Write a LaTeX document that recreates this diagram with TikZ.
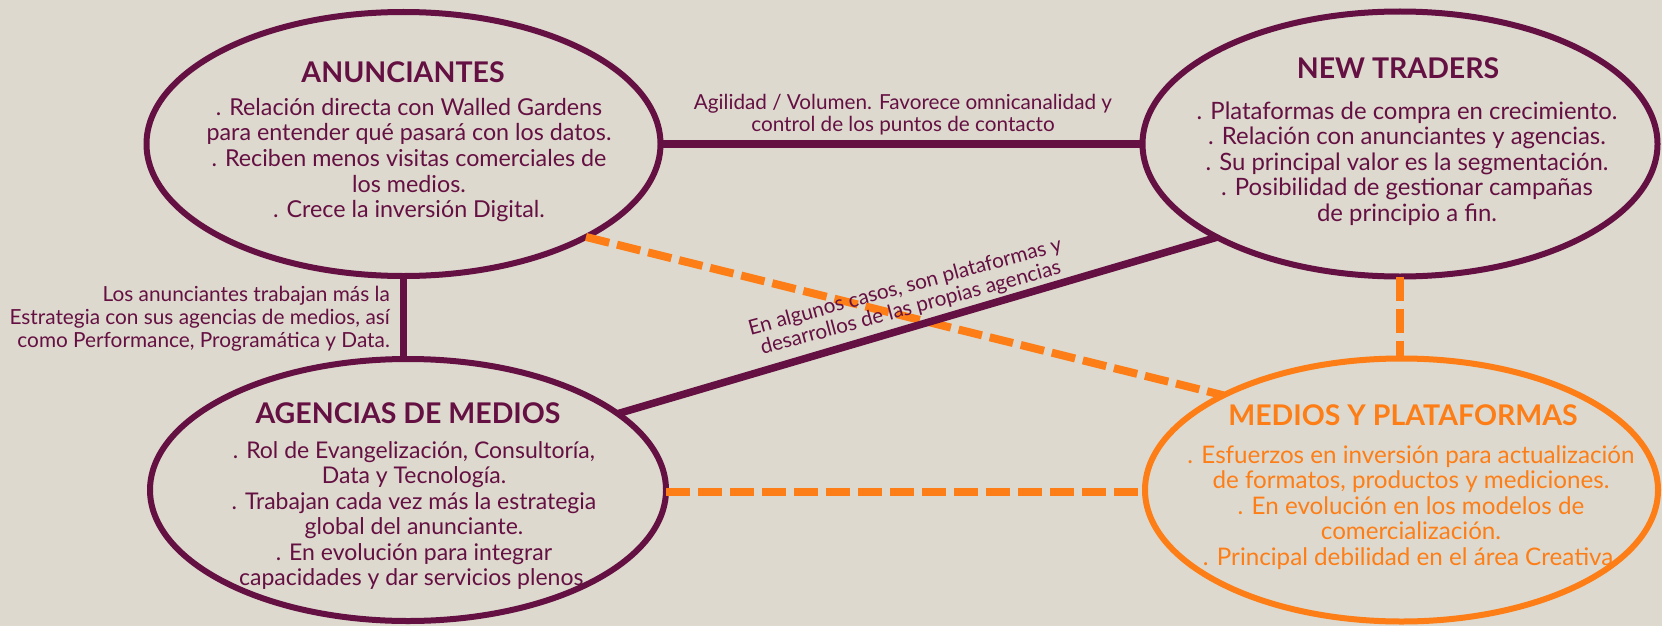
\documentclass[tikz,border=0pt]{standalone}
\usepackage{fontspec}
\setmainfont{Lato}
\usetikzlibrary{shapes.geometric}
\definecolor{bg}{RGB}{221,217,206}
\definecolor{plum}{RGB}{101,16,66}
\definecolor{orng}{RGB}{253,126,22}
\begin{document}
\begin{tikzpicture}[x=1pt,y=-1pt,
  oval/.style={ellipse,draw=plum,line width=6pt,inner sep=0pt,outer sep=0pt},
  ttl/.style={font=\fontsize{28.5}{32}\selectfont\bfseries,text=plum,inner sep=0pt},
  body/.style={text=plum,align=center,inner sep=0pt},
  lbl/.style={font=\fontsize{20.7}{22}\selectfont,text=plum,inner sep=0pt},
  plumlink/.style={draw=plum,line width=7.5pt},
  orlink/.style={draw=orng,line width=8pt,dash pattern=on 24pt off 8pt}]
\useasboundingbox[fill=bg] (0,0) rectangle (1662,626);

% ellipses
\node[oval,minimum width=514pt,minimum height=264pt] (anun) at (403.5,144) {};
\node[oval,minimum width=515pt,minimum height=265pt] (newt) at (1400,144) {};
\node[oval,minimum width=516pt,minimum height=262pt] (agen) at (408,490) {};
\node[oval,draw=orng,minimum width=513pt,minimum height=263pt] (medi) at (1401.5,490) {};

% texts
\node[ttl] (anunT) at (403,72) {ANUNCIANTES};
\node[body,font=\fontsize{23.3}{25.6}\selectfont] (anunB) at (409,160) {. Relación directa con Walled Gardens\\para entender qué pasará con los datos.\\. Reciben menos visitas comerciales de\\los medios.\\. Crece la inversión Digital.};

\node[ttl] (newtT) at (1398,68) {NEW TRADERS};
\node[body,font=\fontsize{23.9}{25.6}\selectfont] (newtB) at (1407,163.5) {. Plataformas de compra en crecimiento.\\. Relación con anunciantes y agencias.\\. Su principal valor es la segmentación.\\. Posibilidad de gestionar campañas\\de principio a fin.};

\node[ttl] (agenT) at (408,413) {AGENCIAS DE MEDIOS};
\node[body,font=\fontsize{23}{25.4}\selectfont] (agenB) at (414,515.5) {. Rol de Evangelización, Consultoría,\\Data y Tecnología.\\. Trabajan cada vez más la estrategia\\global del anunciante.\\. En evolución para integrar\\capacidades y dar servicios plenos.};

\node[ttl,text=orng] (mediT) at (1403,415) {MEDIOS Y PLATAFORMAS};
\node[body,text=orng,font=\fontsize{24.2}{25.6}\selectfont] (mediB) at (1411,507.5) {. Esfuerzos en inversión para actualización\\de formatos, productos y mediciones.\\. En evolución en los modelos de\\comercialización.\\. Principal debilidad en el área Creativa.};

% connectors
\draw[orlink] (anun.-27.5) -- (medi.152.9);
\draw[orlink] (newt.south) -- (newt.south |- medi.north);
\draw[orlink] ([yshift=-2pt]agen.east) -- ([yshift=-2pt]medi.west);
\draw[plumlink] (anun.east) -- (anun.east -| newt.west);
\draw[plumlink] (anun.south) -- (anun.south |- agen.north);
\draw[plumlink] (agen.20.5) -- (newt.207.7);

% labels
\node[lbl,align=center] (l1) at (903,115) {Agilidad / Volumen. Favorece omnicanalidad y\\control de los puntos de contacto};
\node[lbl,align=right,anchor=east,font=\fontsize{20.8}{23}\selectfont] (l2) at (390,318.5) {Los anunciantes trabajan más la\\Estrategia con sus agencias de medios, así\\como Performance, Programática y Data.};
\node[lbl,align=center,rotate=15.2] (l3) at (908,298) {En algunos casos, son plataformas y\\desarrollos de las propias agencias};
\end{tikzpicture}
\end{document}
